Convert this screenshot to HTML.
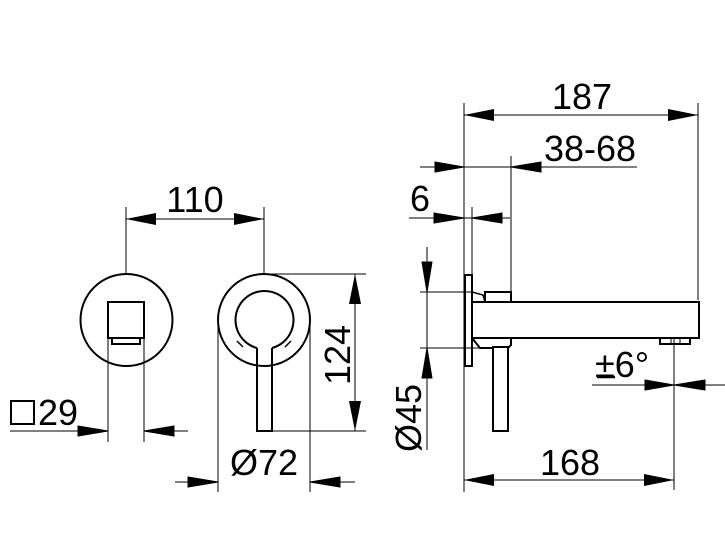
<!DOCTYPE html>
<html><head><meta charset="utf-8"><style>html,body{margin:0;padding:0;background:#fff}</style></head><body>
<svg width="725" height="548" viewBox="0 0 725 548" xmlns="http://www.w3.org/2000/svg" font-family="Liberation Sans, Arial, sans-serif" font-size="36">
<defs>
<marker id="a" viewBox="0 0 30 12" refX="30" refY="6" markerWidth="30" markerHeight="12" markerUnits="userSpaceOnUse" orient="auto-start-reverse"><path d="M0,0 L30,6 L0,12 Z" fill="#000"/></marker>
</defs>
<g stroke="#000" stroke-width="1" fill="none">
<line x1="126" y1="207" x2="126" y2="274"/><line x1="264" y1="207" x2="264" y2="274"/>
<line x1="126" y1="219" x2="264" y2="219" marker-start="url(#a)" marker-end="url(#a)"/>
<circle cx="126.5" cy="320" r="46" stroke-width="2"/>
<rect x="108" y="302" width="36" height="36" stroke-width="2"/>
<rect x="112" y="338" width="28" height="6" stroke-width="2"/>
<line x1="108" y1="338" x2="108" y2="442"/><line x1="144" y1="338" x2="144" y2="442"/>
<line x1="10" y1="431" x2="108" y2="431" /><line x1="144" y1="431" x2="188" y2="431"/>
<path d="M78,426 L108,431 L78,436Z M174,426 L144,431 L174,436Z" fill="#000"/>
<circle cx="264" cy="320" r="46" stroke-width="2"/>
<path d="M257,348 A29,29 0 1 1 272,348" stroke-width="2"/>
<path d="M257,348 L257,431 L272,431 L272,348" stroke-width="2"/>
<line x1="237" y1="341" x2="243" y2="347" stroke-width="1.5"/><line x1="291" y1="341" x2="285" y2="347" stroke-width="1.5"/>
<line x1="264" y1="274" x2="366" y2="274"/><line x1="272" y1="431" x2="366" y2="431"/>
<line x1="355" y1="274" x2="355" y2="431" marker-start="url(#a)" marker-end="url(#a)"/>
<line x1="218" y1="318" x2="218" y2="492"/><line x1="310" y1="318" x2="310" y2="492"/>
<line x1="175" y1="482" x2="218" y2="482"/><line x1="310" y1="482" x2="355" y2="482"/>
<path d="M188,477 L218,482 L188,487Z M340,477 L310,482 L340,487Z" fill="#000"/>
<line x1="464" y1="103" x2="464" y2="492"/><line x1="698" y1="103" x2="698" y2="300"/>
<line x1="464" y1="115" x2="698" y2="115" marker-start="url(#a)" marker-end="url(#a)"/>
<line x1="511" y1="156" x2="511" y2="292"/>
<line x1="420" y1="167" x2="637" y2="167"/>
<path d="M435,162 L464,167 L435,172Z M541,162 L511,167 L541,172Z" fill="#000"/>
<line x1="472" y1="207" x2="472" y2="275"/>
<line x1="409" y1="218" x2="510" y2="218"/>
<path d="M434,213 L464,218 L434,223Z M502,213 L472,218 L502,223Z" fill="#000"/>
<line x1="420" y1="292" x2="472" y2="292"/><line x1="420" y1="348" x2="480" y2="348"/>
<line x1="427" y1="247" x2="427" y2="450"/>
<path d="M422,262 L427,292 L432,262Z M422,378 L427,348 L432,378Z" fill="#000"/>
<rect x="465" y="275" width="7" height="91" stroke-width="2"/>
<rect x="472" y="302" width="227" height="36" stroke-width="2"/>
<path d="M485,302 L485,292 L511,292 L511,302" stroke-width="2"/>
<path d="M472,292 L483,295 L485,302" stroke-width="1.5"/>
<path d="M472,338 L480,348 L493,348 M508,348 L511,345 L511,338" stroke-width="2"/>
<rect x="493" y="347" width="15" height="84" stroke-width="2"/>
<rect x="660" y="338" width="30" height="6" stroke-width="2"/>
<line x1="671" y1="338" x2="671" y2="344"/><line x1="680" y1="338" x2="680" y2="344"/>
<line x1="674" y1="338" x2="674" y2="490"/>
<line x1="592" y1="385" x2="725" y2="385"/>
<path d="M645,380 L674,385 L645,390Z M705,380 L674,385 L705,390Z" fill="#000"/>
<line x1="464" y1="480" x2="674" y2="480" marker-start="url(#a)" marker-end="url(#a)"/>
<line x1="597" y1="377" x2="615" y2="377" stroke-width="2.5"/>
</g>
<g fill="#000">
<text x="195" y="212" text-anchor="middle">110</text>
<text x="582" y="109" text-anchor="middle">187</text>
<text x="544" y="161">38-68</text>
<text x="410" y="211">6</text>
<text x="595" y="377">±6°</text>
<text x="570" y="475" text-anchor="middle">168</text>
<text x="264" y="475" text-anchor="middle">Ø72</text>
<text x="38" y="425">29</text>
<text transform="translate(350,355) rotate(-90)" text-anchor="middle">124</text>
<text transform="translate(421,418) rotate(-90)" text-anchor="middle">Ø45</text>
</g>
<rect x="11" y="401" width="23" height="23" fill="none" stroke="#000" stroke-width="2"/>
</svg>
</body></html>
